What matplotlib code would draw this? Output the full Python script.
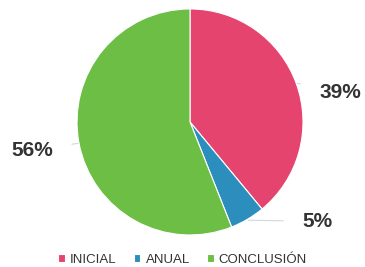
import matplotlib.pyplot as plt
import numpy as np

plt.rcParams['font.family'] = ['Liberation Sans', 'DejaVu Sans']

labels = ['INICIAL', 'ANUAL', 'CONCLUSIÓN']
values = [39, 5, 56]
colors = ['#E5446F', '#2B8EBD', '#6CBE45']
# text placement (axes data units, pie radius = 1)
label_pos = [(1.33, 0.26), (1.13, -0.88), (-1.40, -0.25)]

fig = plt.figure(figsize=(3.65, 2.67), dpi=100)
ax = fig.add_axes([0.211, 0.12, 226/365, 226/267])
wedges, _ = ax.pie(values, colors=colors, startangle=90, counterclock=False,
                   wedgeprops=dict(edgecolor='white', linewidth=0.8))
ax.set_xlim(-1, 1)
ax.set_ylim(-1, 1)
ax.set_aspect('equal')
ax.axis('off')

for w, v, pos in zip(wedges, values, label_pos):
    ang = np.deg2rad((w.theta1 + w.theta2) / 2)
    edge = (1.01 * np.cos(ang), 1.01 * np.sin(ang))
    ax.annotate(f'{v}%', xy=edge, xytext=pos, ha='center', va='center',
                fontsize=15, fontweight='bold', color='#333333',
                annotation_clip=False,
                arrowprops=dict(arrowstyle='-', color='#cfd8dc', lw=0.8,
                                shrinkA=12, shrinkB=0))

fig.legend(wedges, labels, loc='lower center', ncol=3, frameon=False,
           bbox_to_anchor=(0.5, -0.035), fontsize=9.5, handlelength=0.5,
           handleheight=0.5, handletextpad=0.4, columnspacing=1.3,
           labelcolor='#333333', borderpad=0.3)
fig.savefig('out.png', dpi=100)
